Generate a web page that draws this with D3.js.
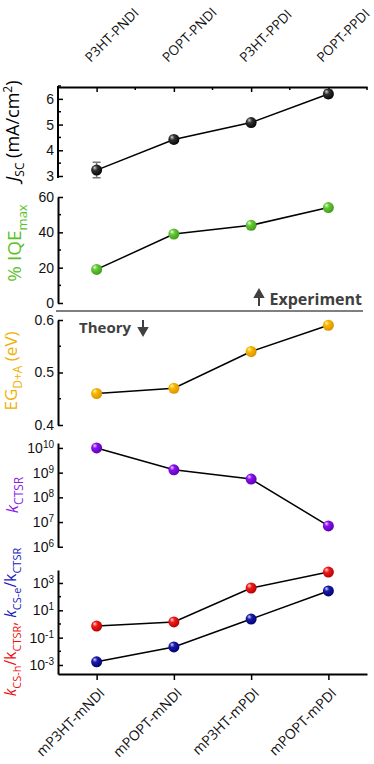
<!DOCTYPE html>
<html>
<head>
<meta charset="utf-8">
<script src="https://cdn.jsdelivr.net/npm/d3@7"></script>
<style>
  body { margin: 0; background: #fff; }
  svg { display: block; font-family: "Open Sans", sans-serif; }
  .axis path, .axis line { stroke: #000; }
  .axis path { stroke-width: 2; }
  .axis line { stroke-width: 1.5; }
  .axis text { font-size: 14px; fill: #111; }
</style>
</head>
<body>
<div id="chart"></div>
<script>
// categories
var topLabels = ["P3HT-PNDI", "POPT-PNDI", "P3HT-PPDI", "POPT-PPDI"];
var bottomLabels = ["mP3HT-mNDI", "mPOPT-mNDI", "mP3HT-mPDI", "mPOPT-mPDI"];

// experiment
var jsc = [3.23, 4.42, 5.08, 6.19];
var jscErr = [0.3, 0.12, 0.08, 0.15];
var iqe = [19, 39, 44, 54];

// theory
var eg = [0.46, 0.47, 0.54, 0.59];
var kCTSR = [1e10, 1.3e9, 5.5e8, 7e6];
var ratioH = [0.7, 1.4, 430, 6300];
var ratioE = [0.0017, 0.021, 2.3, 260];

// ticks
var jscTicks = [3, 4, 5, 6];
var jscMinor = [3.5, 4.5, 5.5, 6.5];
var iqeTicks = [0, 20, 40, 60];
var iqeMinor = [10, 30, 50];
var egTicks = [0.4, 0.5, 0.6];
var egMinor = [0.45, 0.55];
var kExp = [6, 7, 8, 9, 10];
var ratioExp = [-3, -1, 1, 3];
var ratioMinorExp = [-2, 0, 2];

var width = 374, height = 764;
var svg = d3.select("#chart").append("svg")
  .attr("width", width)
  .attr("height", height);

var idx = [1, 2, 3, 4];
var x = d3.scaleLinear().domain([0.5, 4.5]).range([58, 367]);

var y1 = d3.scaleLinear().domain([3, 6.5]).range([176, 86]);
var y2 = d3.scaleLinear().domain([0, 60]).range([303, 197]);
var y3 = d3.scaleLinear().domain([0.4, 0.6]).range([425, 320]);
var y4 = d3.scaleLog().domain([Math.pow(10, 5.99), Math.pow(10, 10.2)]).range([547, 443]);
var y5 = d3.scaleLog().domain([Math.pow(10, -3.66), Math.pow(10, 3.95)]).range([674, 570]);

// sphere gradients
var defs = svg.append("defs");
function ball(id, light, mid, dark) {
  var g = defs.append("radialGradient").attr("id", id)
    .attr("cx", "0.4").attr("cy", "0.4").attr("r", "0.65")
    .attr("fx", "0.32").attr("fy", "0.28");
  g.append("stop").attr("offset", "0%").attr("stop-color", light);
  g.append("stop").attr("offset", "35%").attr("stop-color", mid);
  g.append("stop").attr("offset", "100%").attr("stop-color", dark);
}
ball("gBlack", "#d0d0d0", "#333", "#000");
ball("gGreen", "#eaffd8", "#66c835", "#3d9a18");
ball("gGold", "#fff4b8", "#f7b800", "#d99000");
ball("gPurple", "#ecd0ff", "#8a10f0", "#5a00b0");
ball("gRed", "#ffd6d6", "#f21a1a", "#b00000");
ball("gBlue", "#d0d0ff", "#1a1aa8", "#000070");

function leftAxis(scale, values, minor, fmt) {
  var g = svg.append("g").attr("class", "axis").attr("transform", "translate(" + x.range()[0] + ",0)");
  g.call(d3.axisLeft(scale).tickValues(values).tickSize(-5).tickSizeOuter(0).tickPadding(4).tickFormat(fmt));
  if (minor) {
    g.selectAll(".minor").data(minor).enter().append("line")
      .attr("x1", 0).attr("x2", 3)
      .attr("y1", function (d) { return scale(d); })
      .attr("y2", function (d) { return scale(d); });
  }
  return g;
}

function powLabels(g) {
  g.selectAll(".tick text").each(function (d) {
    var e = Math.round(Math.log10(d));
    var t = d3.select(this).text("");
    t.append("tspan").text("10");
    t.append("tspan").attr("dy", "-0.5em").attr("font-size", "10px").text(e < 0 ? "-" + (-e) : e);
  });
}

function series(vals, scale, grad) {
  var line = d3.line().x(function (d, i) { return x(idx[i]); }).y(function (d) { return scale(d); });
  svg.append("path").datum(vals).attr("d", line)
    .attr("fill", "none").attr("stroke", "#000").attr("stroke-width", 1.5);
  svg.selectAll(null).data(vals).enter().append("circle")
    .attr("cx", function (d, i) { return x(idx[i]); })
    .attr("cy", function (d) { return scale(d); })
    .attr("r", 5.5)
    .attr("fill", "url(#" + grad + ")");
}

// top axis
var topAx = svg.append("g").attr("class", "axis").attr("transform", "translate(0,87)");
topAx.call(d3.axisTop(x).tickValues(idx).tickSize(-5).tickSizeOuter(0).tickFormat(""));
topAx.selectAll(".minor").data([1.5, 2.5, 3.5, 4.5]).enter().append("line")
  .attr("x1", function (d) { return x(d); }).attr("x2", function (d) { return x(d); })
  .attr("y1", 0).attr("y2", 3);
svg.selectAll(".toplab").data(topLabels).enter().append("text")
  .attr("transform", function (d, i) { return "translate(" + (x(idx[i]) - 6) + ",63) rotate(-45)"; })
  .attr("font-size", "13.5px").attr("fill", "#111")
  .text(function (d) { return d; });

// bottom axis
var botAx = svg.append("g").attr("class", "axis").attr("transform", "translate(0,674)");
botAx.call(d3.axisBottom(x).tickValues(idx).tickSize(6).tickSizeOuter(0).tickFormat(""));
svg.selectAll(".botlab").data(bottomLabels).enter().append("text")
  .attr("transform", function (d, i) { return "translate(" + (x(idx[i]) + 9) + ",694) rotate(-45)"; })
  .attr("text-anchor", "end").attr("font-size", "14px").attr("fill", "#111")
  .text(function (d) { return d; });

// left axes
var a1 = leftAxis(y1, jscTicks, jscMinor, d3.format("d"));
a1.select(".domain").attr("d", "M0,178V86");
leftAxis(y2, iqeTicks, iqeMinor, d3.format("d"));
leftAxis(y3, egTicks, egMinor, d3.format(".1f"));
var a4 = leftAxis(y4, kExp.map(function (e) { return Math.pow(10, e); }), null, null);
powLabels(a4);
var a5 = leftAxis(y5, ratioExp.map(function (e) { return Math.pow(10, e); }),
  ratioMinorExp.map(function (e) { return Math.pow(10, e); }), null);
powLabels(a5);

// experiment / theory divider
svg.append("line").attr("x1", 56).attr("x2", 363).attr("y1", 311).attr("y2", 311)
  .attr("stroke", "#555").attr("stroke-width", 1.5);
svg.append("text").attr("x", 362).attr("y", 305).attr("text-anchor", "end")
  .attr("font-size", "16px").attr("font-weight", "bold").attr("fill", "#404040").text("Experiment");
svg.append("path").attr("d", "M259,306V293M255,297L259,290L263,297Z")
  .attr("stroke", "#404040").attr("stroke-width", 2).attr("fill", "#404040");
svg.append("text").attr("x", 79).attr("y", 333)
  .attr("font-size", "15px").attr("font-weight", "bold").attr("fill", "#404040").text("Theory");
svg.append("path").attr("d", "M143,320V331M139,328L143,335L147,328Z")
  .attr("stroke", "#404040").attr("stroke-width", 2).attr("fill", "#404040");

// error bars
svg.selectAll(".err").data(jsc).enter().append("path")
  .attr("d", function (d, i) {
    var cx = x(idx[i]), lo = y1(d - jscErr[i]), hi = y1(d + jscErr[i]);
    return "M" + (cx - 4) + "," + hi + "H" + (cx + 4) + "M" + cx + "," + hi + "V" + lo + "M" + (cx - 4) + "," + lo + "H" + (cx + 4);
  })
  .attr("stroke", "#777").attr("stroke-width", 1.5).attr("fill", "none");

series(jsc, y1, "gBlack");
series(iqe, y2, "gGreen");
series(eg, y3, "gGold");
series(kCTSR, y4, "gPurple");
series(ratioH, y5, "gRed");
series(ratioE, y5, "gBlue");

// y labels (rotated); parts shift: "sub" / "sup" / none
function ylab(xp, yc, size, color, parts) {
  var t = svg.append("text")
    .attr("transform", "translate(" + xp + "," + yc + ") rotate(-90)")
    .attr("text-anchor", "middle").attr("font-size", size + "px");
  var cur = 0, small = Math.round(size * 0.68);
  parts.forEach(function (p) {
    var off = p.s === "sub" ? size * 0.3 : p.s === "sup" ? -size * 0.4 : 0;
    var s = t.append("tspan").text(p.t).attr("fill", p.c || color).attr("dy", (off - cur).toFixed(1));
    cur = off;
    if (p.i) s.attr("font-style", "italic");
    if (p.s) s.attr("font-size", small + "px");
  });
}
var blue = "#2020c0";
ylab(19, 131, 18, "#000", [{ t: "J", i: 1 }, { t: "SC", s: "sub" }, { t: " (mA/cm" }, { t: "2", s: "sup" }, { t: ")" }]);
ylab(21, 243, 19, "#5cbf2a", [{ t: "% IQE" }, { t: "max", s: "sub" }]);
ylab(17, 371, 17, "#f0b000", [{ t: "EG" }, { t: "D+A", s: "sub" }, { t: " (eV)" }]);
ylab(18, 495, 17, "#8a1ee8", [{ t: "k", i: 1 }, { t: "CTSR", s: "sub" }]);
ylab(16, 622, 15.5, "#f01010", [
  { t: "k", i: 1 }, { t: "CS-h", s: "sub" }, { t: "/k" }, { t: "CTSR", s: "sub" }, { t: ", " },
  { t: "k", i: 1, c: blue }, { t: "CS-e", s: "sub", c: blue }, { t: "/k", c: blue }, { t: "CTSR", s: "sub", c: blue }
]);
</script>
</body>
</html>
